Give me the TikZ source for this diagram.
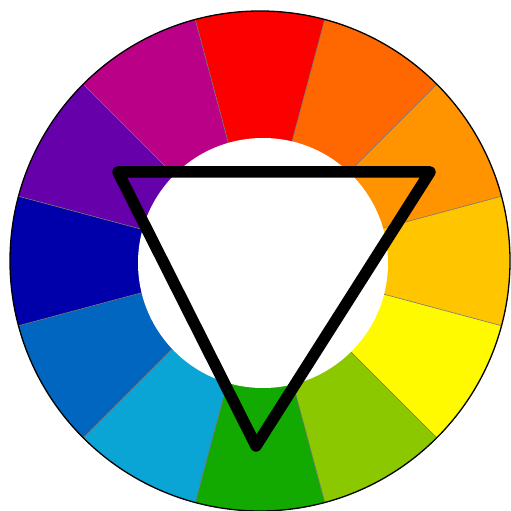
\documentclass[tikz,border=0pt]{standalone}
\definecolor{c0}{RGB}{252,0,0}
\definecolor{c1}{RGB}{255,104,0}
\definecolor{c2}{RGB}{255,148,0}
\definecolor{c3}{RGB}{255,198,0}
\definecolor{c4}{RGB}{255,250,0}
\definecolor{c5}{RGB}{140,200,0}
\definecolor{c6}{RGB}{18,170,0}
\definecolor{c7}{RGB}{10,165,213}
\definecolor{c8}{RGB}{0,102,192}
\definecolor{c9}{RGB}{0,0,170}
\definecolor{c10}{RGB}{102,0,170}
\definecolor{c11}{RGB}{187,0,136}
\tikzset{
  segline/.style={black!55, line width=0.6pt},
  rimline/.style={black, line width=1.3pt},
  triline/.style={black, line width=11.5pt, line join=round}
}
\begin{document}
\begin{tikzpicture}[x=1pt,y=1pt]
\useasboundingbox (0,0) rectangle (511,511);
\fill[white] (0,0) rectangle (511,511);
\coordinate (C) at (260,250);
\coordinate (I) at (263,248);
\foreach \i in {0,...,11}{
  \pgfmathsetmacro{\s}{105-30*\i}
  \pgfmathsetmacro{\e}{75-30*\i}
  \fill[c\i] (C) -- ++(\s:250) arc[start angle=\s, end angle=\e, radius=250] -- cycle;
}
\foreach \i in {0,...,11}{
  \pgfmathsetmacro{\s}{105-30*\i}
  \draw[segline] (C) -- ++(\s:250);
}
\draw[rimline] (C) circle[radius=250];
\fill[white] (I) circle[radius=125];
\coordinate (tl) at (118,339);
\coordinate (tr) at (430,339);
\coordinate (bt) at (256,65);
\draw[triline] (tl) -- (tr) -- (bt) -- cycle;
\end{tikzpicture}
\end{document}
